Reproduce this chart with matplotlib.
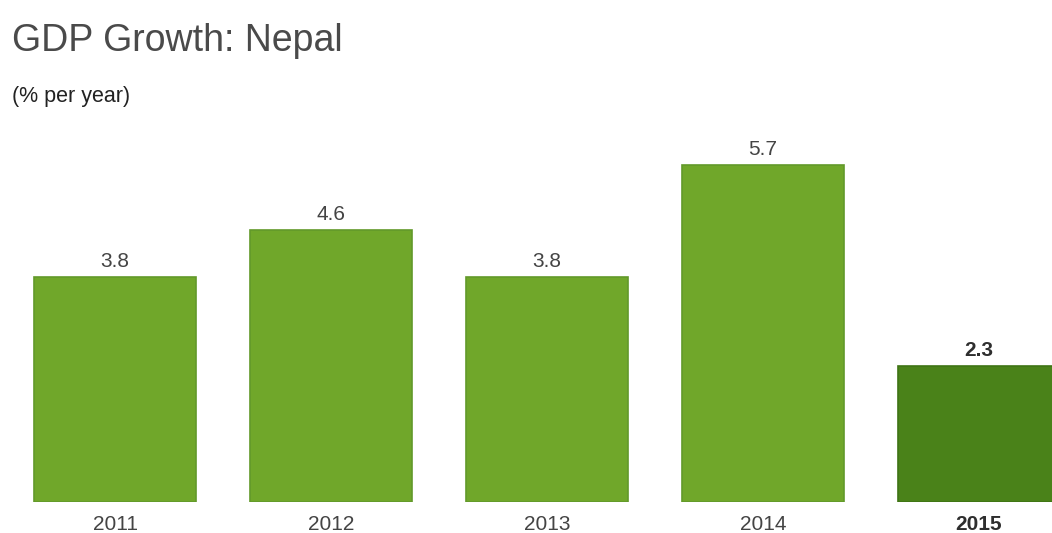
#!/usr/bin/env python3
"""
GDP growth bar chart for Nepal, 2011-2015
"""

import matplotlib
matplotlib.use('Agg')
import matplotlib.pyplot as plt

years = ['2011', '2012', '2013', '2014', '2015']
growth = [3.8, 4.6, 3.8, 5.7, 2.3]
highlight = '2015'

plt.rcParams['font.family'] = ['Liberation Sans', 'DejaVu Sans']

W, H = 1052, 533
fig = plt.figure(figsize=(W / 100, H / 100), dpi=100)

# axes spans full width, baseline at y=502 px from top
base_px = 502
top_px = 100
ax = fig.add_axes([0, (H - base_px) / H, 1, (base_px - top_px) / H])

pitch = 216.0
x0 = 115.0
px_per_unit = 59.1
ax.set_xlim(-x0 / pitch, (W - x0) / pitch)
ax.set_ylim(0, (base_px - top_px) / px_per_unit)

xs = list(range(len(years)))
for x, yr, val in zip(xs, years, growth):
    if yr == highlight:
        fc, ec, weight, tc = '#4a8219', '#3f7415', 'bold', '#2e2e2e'
    else:
        fc, ec, weight, tc = '#70a72a', '#62992a', 'normal', '#444444'
    ax.bar(x, val, width=0.75, color=fc, edgecolor=ec, linewidth=1.2)
    ax.annotate('{:.1f}'.format(val), (x, val), xytext=(0, 4.5),
                textcoords='offset points', ha='center', va='bottom',
                fontsize=15, fontweight=weight, color=tc)
    ax.annotate(yr, (x, 0), xytext=(0, -9.5), textcoords='offset points',
                ha='center', va='top', fontsize=15, fontweight=weight,
                color=tc, annotation_clip=False)

ax.axis('off')

fig.text(12 / W, 1 - 51 / H, 'GDP Growth: Nepal', fontsize=27,
         color='#4a4a4a', ha='left', va='baseline')
fig.text(12 / W, 1 - 102 / H, '(% per year)', fontsize=15.5,
         color='#222222', ha='left', va='baseline')

fig.savefig('out.png', dpi=100)
